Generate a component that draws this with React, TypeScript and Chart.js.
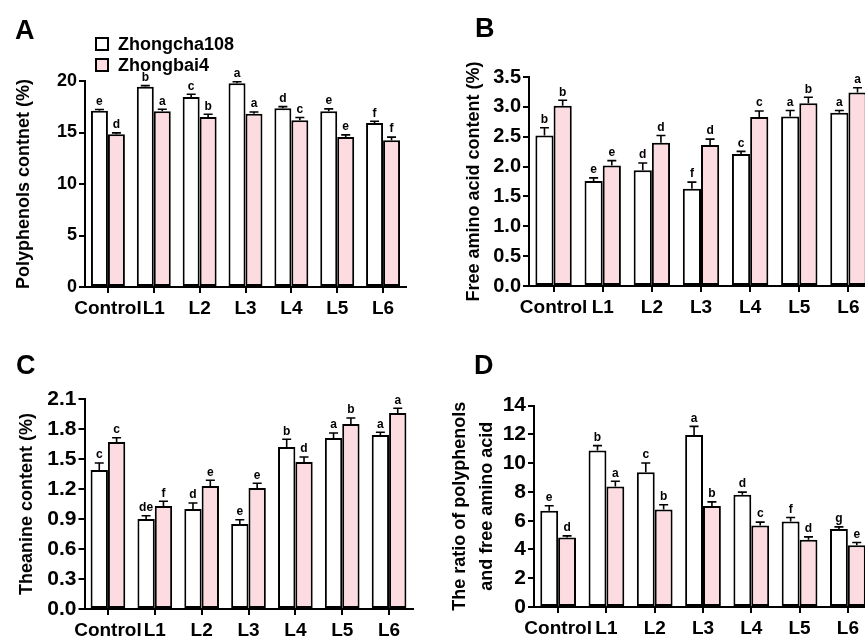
import React, { useEffect, useRef } from 'react';
import { Chart, registerables } from 'chart.js';

Chart.register(...registerables);

const FONT = '"Liberation Sans", Arial, Helvetica, sans-serif';
const PINK = '#FCDCE0';

const categories = ['Control', 'L1', 'L2', 'L3', 'L4', 'L5', 'L6'];
const seriesNames = ['Zhongcha108', 'Zhongbai4'];

// A: Polyphenols
const polyZc = [17.1, 19.45, 18.45, 19.77, 17.35, 17.06, 15.93];
const polyZb = [14.83, 17.06, 16.51, 16.83, 16.19, 14.57, 14.25];
const polyZcErr = [0.13, 0.1, 0.26, 0.16, 0.16, 0.23, 0.16];
const polyZbErr = [0.13, 0.2, 0.26, 0.16, 0.26, 0.2, 0.3];
const polyZcLetters = ['e', 'b', 'c', 'a', 'd', 'e', 'f'];
const polyZbLetters = ['d', 'a', 'b', 'a', 'c', 'e', 'f'];
const polyTicks = [0, 5, 10, 15, 20];

// B: Free amino acid
const aminoZc = [2.52, 1.76, 1.94, 1.63, 2.21, 2.84, 2.9];
const aminoZb = [3.02, 2.02, 2.4, 2.36, 2.83, 3.06, 3.24];
const aminoZcErr = [0.13, 0.05, 0.12, 0.11, 0.045, 0.1, 0.04];
const aminoZbErr = [0.09, 0.08, 0.12, 0.1, 0.1, 0.1, 0.08];
const aminoZcLetters = ['b', 'e', 'd', 'f', 'c', 'a', 'a'];
const aminoZbLetters = ['b', 'e', 'd', 'd', 'c', 'b', 'a'];
const aminoTicks = [0, 0.5, 1.0, 1.5, 2.0, 2.5, 3.0, 3.5];

// C: Theanine
const theaZc = [1.39, 0.9, 1.0, 0.85, 1.62, 1.71, 1.74];
const theaZb = [1.67, 1.03, 1.23, 1.21, 1.47, 1.85, 1.96];
const theaZcErr = [0.07, 0.033, 0.06, 0.043, 0.077, 0.05, 0.027];
const theaZbErr = [0.043, 0.047, 0.057, 0.047, 0.05, 0.06, 0.047];
const theaZcLetters = ['c', 'de', 'd', 'e', 'b', 'a', 'a'];
const theaZbLetters = ['c', 'f', 'e', 'e', 'd', 'b', 'a'];
const theaTicks = [0, 0.3, 0.6, 0.9, 1.2, 1.5, 1.8, 2.1];

// D: Ratio
const ratioZc = [6.69, 10.89, 9.38, 11.96, 7.8, 5.94, 5.43];
const ratioZb = [4.83, 8.38, 6.78, 7.03, 5.67, 4.67, 4.3];
const ratioZcErr = [0.35, 0.33, 0.63, 0.6, 0.19, 0.28, 0.14];
const ratioZbErr = [0.12, 0.37, 0.33, 0.28, 0.23, 0.21, 0.19];
const ratioZcLetters = ['e', 'b', 'c', 'a', 'd', 'f', 'g'];
const ratioZbLetters = ['d', 'a', 'b', 'b', 'c', 'd', 'e'];
const ratioTicks = [0, 2, 4, 6, 8, 10, 12, 14];

type PanelCfg = {
  cx: number; cy: number; cw: number; ch: number;
  L: number; T: number; R: number; B: number;
  titleCenter: number; titleLH: number;
  title: string | string[];
  zc: number[]; zb: number[]; zcErr: number[]; zbErr: number[];
  zcLet: string[]; zbLet: string[];
  ticks: number[]; decimals: number; yTickSize: number;
};

function Panel({ p }: { p: PanelCfg }) {
  const ref = useRef<HTMLCanvasElement | null>(null);
  useEffect(() => {
    if (!ref.current) return;
    const errs = [p.zcErr, p.zbErr];
    const lets = [p.zcLet, p.zbLet];
    const errPlugin = {
      id: 'errbars',
      afterDatasetsDraw(chart: any) {
        const ctx = chart.ctx;
        const y = chart.scales.y;
        ctx.save();
        ctx.strokeStyle = '#000';
        ctx.fillStyle = '#000';
        ctx.lineWidth = 1.6;
        ctx.font = `bold 12px ${FONT}`;
        ctx.textAlign = 'center';
        ctx.textBaseline = 'bottom';
        chart.data.datasets.forEach((ds: any, i: number) => {
          const meta = chart.getDatasetMeta(i);
          meta.data.forEach((bar: any, j: number) => {
            const v = ds.data[j];
            const top = y.getPixelForValue(v + errs[i][j]);
            const x = bar.x;
            ctx.beginPath();
            ctx.moveTo(x, bar.y);
            ctx.lineTo(x, top);
            ctx.moveTo(x - 4.5, top);
            ctx.lineTo(x + 4.5, top);
            ctx.stroke();
            ctx.fillText(lets[i][j], x, top - 2);
          });
        });
        ctx.restore();
      },
    };
    const padLeft = p.titleCenter - p.cx - p.titleLH * 18 / 2;
    const yw = p.L - p.cx - padLeft;
    const xh = p.cy + p.ch - p.B;
    const gridCommon = {
      display: true, drawOnChartArea: false, drawTicks: true, tickLength: 6,
      color: '#000', lineWidth: 2,
    };
    const chart = new Chart(ref.current, {
      type: 'bar',
      data: {
        labels: categories,
        datasets: [
          { label: seriesNames[0], data: p.zc, backgroundColor: '#ffffff', borderColor: '#000', borderWidth: 2, borderSkipped: false, categoryPercentage: 0.74, barPercentage: 1 } as any,
          { label: seriesNames[1], data: p.zb, backgroundColor: PINK, borderColor: '#000', borderWidth: 2, borderSkipped: false, categoryPercentage: 0.74, barPercentage: 1 } as any,
        ],
      },
      options: {
        responsive: false,
        animation: false,
        devicePixelRatio: 1,
        layout: { padding: { top: p.T - p.cy, left: padLeft, right: p.cx + p.cw - p.R, bottom: 0 } },
        plugins: { legend: { display: false }, tooltip: { enabled: false } },
        scales: {
          x: {
            type: 'category',
            offset: true,
            grid: { ...gridCommon, offset: false },
            border: { display: true, color: '#000', width: 2 },
            ticks: { color: '#000', font: { family: FONT, size: 19, weight: 'bold' }, padding: 4, maxRotation: 0, autoSkip: false },
            afterFit: (s: any) => { s.height = xh; },
          },
          y: {
            type: 'linear',
            min: 0,
            max: p.ticks[p.ticks.length - 1],
            grid: gridCommon,
            border: { display: true, color: '#000', width: 2 },
            ticks: {
              color: '#000', font: { family: FONT, size: p.yTickSize, weight: 'bold' }, padding: 2,
              callback: (v: any) => Number(v).toFixed(p.decimals),
            },
            afterBuildTicks: (s: any) => { s.ticks = p.ticks.map((v) => ({ value: v })); },
            afterFit: (s: any) => { s.width = yw; },
            title: {
              display: true, text: p.title, color: '#000', padding: 0,
              font: { family: FONT, size: 18, weight: 'bold', lineHeight: p.titleLH },
            },
          },
        },
      } as any,
      plugins: [errPlugin],
    });
    return () => chart.destroy();
  }, [p]);
  return (
    <canvas
      ref={ref}
      width={p.cw}
      height={p.ch}
      style={{ position: 'absolute', left: p.cx, top: p.cy, width: p.cw, height: p.ch }}
    />
  );
}

const panels: PanelCfg[] = [
  {
    cx: 0, cy: 0, cw: 430, ch: 315, L: 85, T: 81, R: 406, B: 287,
    titleCenter: 24, titleLH: 1.2, title: 'Polyphenols contnet (%)',
    zc: polyZc, zb: polyZb, zcErr: polyZcErr, zbErr: polyZbErr, zcLet: polyZcLetters, zbLet: polyZbLetters,
    ticks: polyTicks, decimals: 0, yTickSize: 18,
  },
  {
    cx: 430, cy: 0, cw: 460, ch: 315, L: 529, T: 77, R: 873, B: 286,
    titleCenter: 474, titleLH: 1.2, title: 'Free amino acid content (%)',
    zc: aminoZc, zb: aminoZb, zcErr: aminoZcErr, zbErr: aminoZbErr, zcLet: aminoZcLetters, zbLet: aminoZbLetters,
    ticks: aminoTicks, decimals: 1, yTickSize: 20,
  },
  {
    cx: 0, cy: 315, cw: 430, ch: 324, L: 84.5, T: 399, R: 412.5, B: 609,
    titleCenter: 27, titleLH: 1.2, title: 'Theanine content (%)',
    zc: theaZc, zb: theaZb, zcErr: theaZcErr, zbErr: theaZbErr, zcLet: theaZcLetters, zbLet: theaZbLetters,
    ticks: theaTicks, decimals: 1, yTickSize: 21,
  },
  {
    cx: 430, cy: 315, cw: 460, ch: 324, L: 534, T: 405.7, R: 872, B: 607,
    titleCenter: 460, titleLH: 1.5, title: ['The ratio of polyphenols', 'and free amino acid'],
    zc: ratioZc, zb: ratioZb, zcErr: ratioZcErr, zbErr: ratioZbErr, zcLet: ratioZcLetters, zbLet: ratioZbLetters,
    ticks: ratioTicks, decimals: 0, yTickSize: 21,
  },
];

const panelLetters = [
  { t: 'A', x: 15, y: 17 },
  { t: 'B', x: 475, y: 15 },
  { t: 'C', x: 16, y: 352 },
  { t: 'D', x: 474, y: 352 },
];

export default function App() {
  return (
    <div style={{ position: 'fixed', left: 0, top: 0, width: 865, height: 639, overflow: 'hidden', background: '#fff', fontFamily: FONT }}>
      {panels.map((p, i) => <Panel key={i} p={p} />)}
      {panelLetters.map((l) => (
        <div key={l.t} style={{ position: 'absolute', left: l.x, top: l.y, fontSize: 27, lineHeight: 1, fontWeight: 'bold', color: '#000' }}>{l.t}</div>
      ))}
      {seriesNames.map((n, i) => (
        <div key={n} style={{ position: 'absolute', left: 95, top: 35 + i * 21, height: 18, display: 'flex', alignItems: 'center' }}>
          <div style={{ width: 10, height: 10, border: '2px solid #000', background: i === 0 ? '#fff' : PINK, marginRight: 9 }} />
          <div style={{ fontSize: 18, lineHeight: 1, fontWeight: 'bold', color: '#000' }}>{n}</div>
        </div>
      ))}
    </div>
  );
}
